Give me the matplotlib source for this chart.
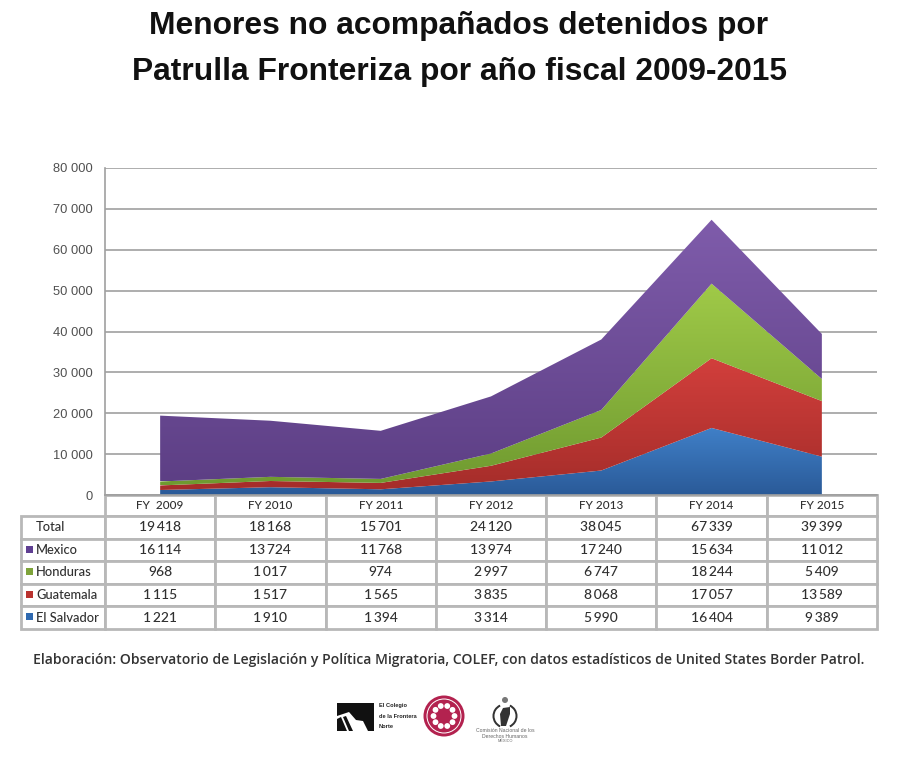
import numpy as np
import matplotlib
matplotlib.use("Agg")
import matplotlib.pyplot as plt
from matplotlib.colors import LinearSegmentedColormap
from matplotlib.patches import Circle, Polygon, Wedge

years = ["FY  2009", "FY 2010", "FY 2011", "FY 2012", "FY 2013", "FY 2014", "FY 2015"]
el_salvador = [1221, 1910, 1394, 3314, 5990, 16404, 9389]
guatemala = [1115, 1517, 1565, 3835, 8068, 17057, 13589]
honduras = [968, 1017, 974, 2997, 6747, 18244, 5409]
mexico = [16114, 13724, 11768, 13974, 17240, 15634, 11012]
total = [19418, 18168, 15701, 24120, 38045, 67339, 39399]
series_names = ["El Salvador", "Guatemala", "Honduras", "Mexico"]
series_values = [el_salvador, guatemala, honduras, mexico]
series_top = ["#4080c8", "#d23f3c", "#a0ca48", "#7f5cab"]
series_bottom = ["#2a5a98", "#a52d2a", "#6f9a30", "#5d3f85"]
y_ticks = [0, 10000, 20000, 30000, 40000, 50000, 60000, 70000, 80000]


def thin(n):
    return f"{n:,}".replace(",", "\u2009")


def spaced(n):
    return f"{n:,}".replace(",", " ")


W, H = 900, 765
fig = plt.figure(figsize=(9, 7.65), dpi=100)
ax = fig.add_axes([105 / W, 1 - 495 / H, 772 / W, 327 / H])
x = np.arange(len(years))
base = np.zeros(len(years))
gradient = np.linspace(1, 0, 256).reshape(-1, 1)
for vals, top_c, bot_c in zip(series_values, series_top, series_bottom):
    upper = base + np.array(vals)
    poly = ax.fill_between(x, base, upper, color="none", linewidth=0, zorder=2)
    cmap = LinearSegmentedColormap.from_list("g", [bot_c, top_c])
    im = ax.imshow(gradient, cmap=cmap, aspect="auto", origin="upper",
                   extent=[x[0], x[-1], base.min(), upper.max()], zorder=2)
    im.set_clip_path(poly.get_paths()[0], transform=ax.transData)
    base = upper

ax.set_xlim(-0.5, 6.5)
ax.set_ylim(0, 80000)
ax.set_yticks(y_ticks)
ax.set_yticklabels([spaced(v) for v in y_ticks], fontsize=9.3,
                   family="Liberation Sans", color="#505050")
ax.tick_params(axis="y", length=0, pad=9)
ax.set_xticks([])
ax.grid(axis="y", color="#a0a0a0", lw=1.2, zorder=1)
ax.set_axisbelow(True)
for s in ["top", "right"]:
    ax.spines[s].set_visible(False)
for s in ["left", "bottom"]:
    ax.spines[s].set_color("#a0a0a0")
    ax.spines[s].set_linewidth(1.2)

# Data table
rows = [["Total"] + [thin(v) for v in total]]
for name, vals in zip(series_names[::-1], series_values[::-1]):
    rows.append([name] + [thin(v) for v in vals])
cell_text = [[""] + years] + rows
col_w = [84 / 856] + [772 / 7 / 856] * 7
tb = ax.table(cellText=cell_text, colWidths=col_w, cellLoc="center",
              bbox=[(21 - 105) / 772, (495 - 629) / 327, 856 / 772, 134 / 327])
tb.auto_set_font_size(False)
for (r, c), cell in tb.get_celld().items():
    cell.set_height(21 / 134 if r == 0 else 22.6 / 134)
    cell.set_edgecolor("#b8b8b8")
    cell.set_linewidth(2)
    cell.get_text().set_family("Lato")
    cell.get_text().set_color("#303030")
    cell.get_text().set_fontsize(10)
    cell.get_text().set_fontweight("medium")
    if r == 0:
        cell.get_text().set_fontsize(8.5)
    if c == 0:
        cell.get_text().set_ha("left")
        cell.PAD = 0.18
        cell.get_text().set_fontsize(9.3)
    if r == 0 and c == 0:
        cell.set_visible(False)
tb.set_clip_on(False)

# Overlay in pixel coordinates for title, notes and logos
ov = fig.add_axes([0, 0, 1, 1], zorder=5)
ov.set_xlim(0, W)
ov.set_ylim(H, 0)
ov.axis("off")
ov.patch.set_alpha(0)

for i, c in enumerate(["#5f3f92", "#7ea33a", "#b9322f", "#2f69b0"]):
    yc = 549 + i * 22.6
    ov.add_patch(Polygon([[26, yc - 3.5], [33, yc - 3.5], [33, yc + 3.5], [26, yc + 3.5]],
                         closed=True, fc=c, ec="none"))

ov.text(459, 26, "Menores no acompañados detenidos por", ha="center", va="center",
        fontsize=22.9, fontweight="bold", family="Liberation Sans", color="#111111")
ov.text(460, 72, "Patrulla Fronteriza por año fiscal 2009-2015", ha="center", va="center",
        fontsize=22.9, fontweight="bold", family="Liberation Sans", color="#111111")
ov.text(449, 660, "Elaboración: Observatorio de Legislación y Política Migratoria, COLEF, "
        "con datos estadísticos de United States Border Patrol.", ha="center", va="center",
        fontsize=10.1, fontweight="semibold", family="Open Sans", color="#333333")

# Logos
ov.add_patch(Polygon([[337, 703], [374, 703], [374, 731], [368, 731], [363, 721], [356, 720],
                      [349, 712], [337, 716]], closed=True, fc="#111111", ec="none"))
ov.add_patch(Polygon([[337, 719], [341, 717], [347, 731], [337, 731]], closed=True, fc="#111111", ec="none"))
ov.add_patch(Polygon([[343, 717], [346, 716], [353, 731], [349, 731]], closed=True, fc="#111111", ec="none"))
for i, s in enumerate(["El Colegio", "de la Frontera", "Norte"]):
    ov.text(379, 706 + i * 10.5, s, fontsize=4.1, fontweight="bold", family="Liberation Sans",
            color="#222222", va="center")
ov.add_patch(Circle((444, 716), 20.5, fc="#b3224f", ec="none"))
ov.add_patch(Circle((444, 716), 17.5, fc="white", ec="none"))
ov.add_patch(Circle((444, 716), 16.5, fc="#b3224f", ec="none"))
for a in np.deg2rad(np.arange(0, 360, 36)):
    ov.add_patch(Circle((444 + 10.5 * np.cos(a), 716 + 10.5 * np.sin(a)), 2.9, fc="white", ec="none"))
ov.add_patch(Circle((505, 700), 3, fc="#777777", ec="none"))
ov.add_patch(Wedge((505, 716), 12.5, 115, 245, width=2, fc="#333333", ec="none"))
ov.add_patch(Wedge((505, 716), 12.5, -65, 65, width=2, fc="#333333", ec="none"))
ov.add_patch(Polygon([[501, 726], [500, 714], [503, 708], [510, 707], [510, 714], [506, 726]],
                     closed=True, fc="#333333", ec="none"))
for i, s in enumerate(["Comisión Nacional de los", "Derechos Humanos", "MÉXICO"]):
    ov.text(505, 731 + i * 5.2, s, fontsize=[3.7, 3.7, 2.8][i], family="Liberation Sans",
            color="#666666", ha="center", va="center")

fig.savefig("out.png", dpi=100, facecolor="white")
